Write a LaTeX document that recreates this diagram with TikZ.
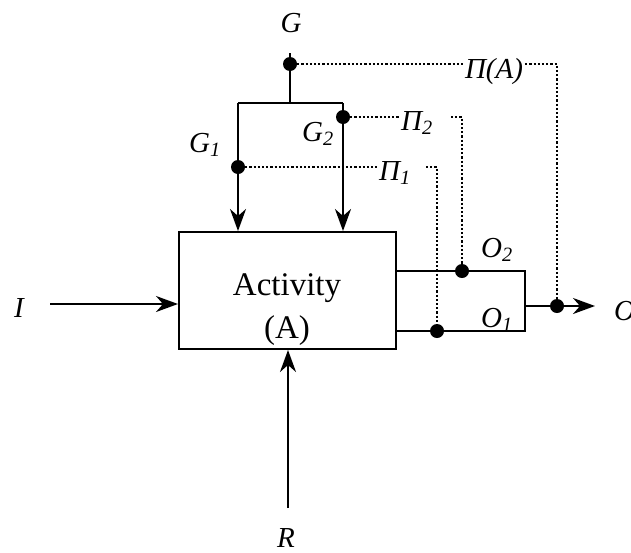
\documentclass[tikz,border=0pt]{standalone}
\usepackage{fontspec}
\setmainfont{Liberation Serif}
\usetikzlibrary{arrows.meta}
\begin{document}
\begin{tikzpicture}[x=1pt,y=-1pt,
  line/.style={line width=2pt},
  arr/.style={line width=2pt,-{Stealth[length=22pt,width=16pt,inset=7pt]}},
  dotl/.style={line width=2.2pt,dash pattern=on 2.2pt off 2pt},
  junc/.style={circle,fill,inner sep=0pt,minimum size=14pt},
  lab/.style={font=\fontsize{29}{30}\selectfont\itshape,anchor=base,inner sep=0pt},
  txt/.style={font=\fontsize{33}{40}\selectfont,anchor=base,inner sep=0pt}]
\useasboundingbox (0,0) rectangle (631,552);
% activity box
\node[draw,line width=2pt,minimum width=217pt,minimum height=117pt,inner sep=0pt] (act) at (287.5,290.5) {};
\node[txt] (t1) at (287,295) {Activity};
\node[txt] (t2) at (287,338) {(A)};
% control G
\coordinate (gtop) at (290,53);
\coordinate (gbar) at (290,103);
\coordinate (g1c) at (238,103);
\coordinate (g2c) at (343,103);
\draw[line] (gtop) -- (gbar);
\draw[line] (g1c) -- (g2c);
\draw[arr] (g1c) -- (g1c |- act.north);
\draw[arr] (g2c) -- (g2c |- act.north);
% outputs
\coordinate (o2e) at (525,271);
\coordinate (o1e) at (525,331);
\coordinate (oj) at (525,306);
\coordinate (otip) at (595,306);
\draw[line] (act.east |- o2e) -- (o2e) -- (o1e) -- (act.east |- o1e);
\draw[arr] (oj) -- (otip);
% input and resource
\coordinate (istart) at (50,304);
\draw[arr] (istart) -- (istart -| act.west);
\coordinate (rstart) at (288,508);
\draw[arr] (rstart) -- (rstart |- act.south);
% junction dots
\node[junc] (dA) at (290,64) {};
\node[junc] (d1) at (238,167) {};
\node[junc] (d2) at (343,117) {};
\node[junc] (od) at (557,306) {};
\node[junc] (o2d) at (462,271) {};
\node[junc] (o1d) at (437,331) {};
% labels
\node[lab] (G) at (291,32) {G};
\node[lab] (G1) at (205,152) {G\textsubscript{1}};
\node[lab] (G2) at (318,141) {G\textsubscript{2}};
\node[lab] (P2) at (417,130) {Π\textsubscript{2}};
\node[lab] (P1) at (395,180) {Π\textsubscript{1}};
\node[lab] (PA) at (494,78) {Π(A)};
\node[lab] (O2) at (497,257) {O\textsubscript{2}};
\node[lab] (O1) at (497,327) {O\textsubscript{1}};
\node[lab,anchor=base west] (O) at (614,320) {O};
\node[lab] (I) at (19,317) {I};
\node[lab] (R) at (286,547) {R};
% dotted measurement lines
\draw[dotl] (dA) -- ([xshift=-2pt]PA.west |- dA);
\draw[dotl] ([xshift=2pt]PA.east |- dA) -| (od);
\draw[dotl] (d2) -- ([xshift=-2pt]P2.west |- d2);
\draw[dotl] ([xshift=18pt]P2.east |- d2) -| (o2d);
\draw[dotl] (d1) -- ([xshift=-2pt]P1.west |- d1);
\draw[dotl] ([xshift=15pt]P1.east |- d1) -| (o1d);
\end{tikzpicture}
\end{document}
